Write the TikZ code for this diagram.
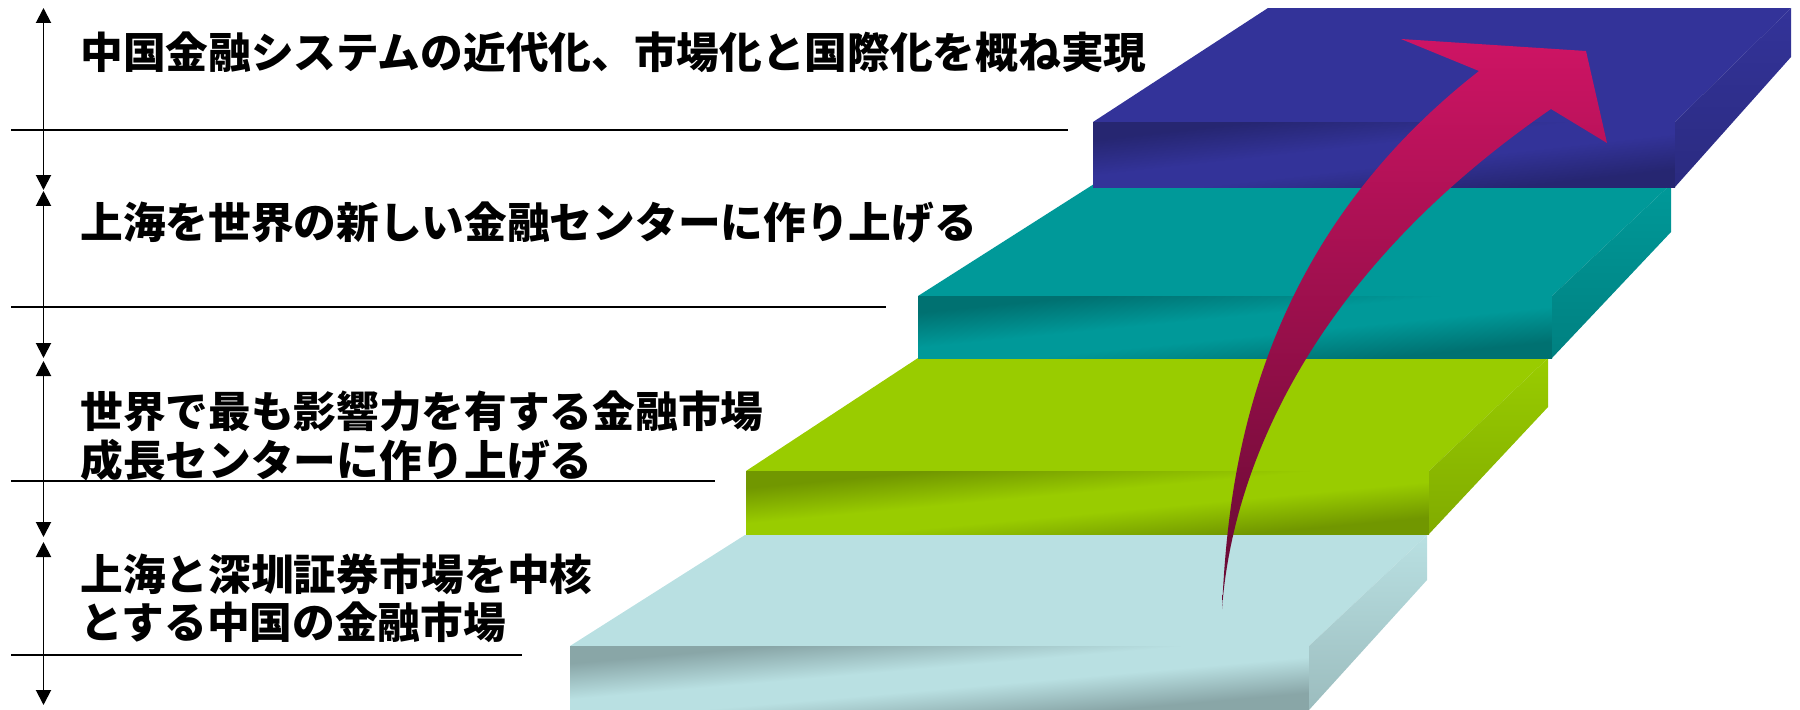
\documentclass[tikz,border=0pt]{standalone}
\usepackage{fontspec}
\usepackage{xcolor}
\usepackage{tikz}
\usetikzlibrary{arrows.meta}
\newfontfamily\jpfont{Noto Sans CJK JP}
\definecolor{paleblue}{RGB}{185,224,226}
\definecolor{lime}{RGB}{153,204,0}
\definecolor{seateal}{RGB}{0,153,153}
\definecolor{indigo}{RGB}{51,51,153}
\definecolor{rosetop}{RGB}{206,20,100}
\definecolor{rosetail}{RGB}{100,10,50}
\colorlet{facelt}{paleblue}
\colorlet{facedk}{paleblue!74!black}
\pgfdeclareverticalshading[facedk,facelt]{stepface}{100bp}{color(0bp)=(facedk);
  color(24bp)=(facedk); color(44bp)=(facelt); color(56bp)=(facelt);
  color(76bp)=(facedk); color(100bp)=(facedk)}

\begin{document}
\begin{tikzpicture}[x=0.02cm,y=-0.02cm,
    stage/.style={anchor=west,inner sep=0pt,align=left,
      font=\jpfont\bfseries\fontsize{24.3pt}{27.5pt}\selectfont},
    rule/.style={line width=1.1pt},
    span/.style={line width=1.1pt,{Triangle[width=3mm,length=3mm]}-{Triangle[width=3mm,length=3mm]}}]
  \useasboundingbox (0,0) rectangle (1800,710);
  % steps, bottom to top
  \foreach \xa/\xb/\ya/\yb/\xc/\yc/\xd/\ye/\col in
    {570/1309/646/710/745/535/1427/580/paleblue,
     746/1429/471/534/918/358/1548/407/lime,
     918/1552/296/358/1094/184/1671/232/seateal,
     1093/1675/122/187/1268/8/1791/57/indigo}
  {
    \colorlet{facelt}{\col}
    \colorlet{facedk}{\col!74!black}
    \fill[\col] (\xa,\ya) -- (\xc,\yc) -- (\xd,\yc) -- (\xb,\ya) -- cycle;
    \shade[shading=stepface,shading angle=45,
      transform canvas={shift={(\xa,\ya)},xscale={(\xb-\xa)/50},yscale={(\yb-\ya)/50}}]
      (0,0) rectangle (50,50);
    \shade[top color=\col,bottom color=\col!84!black]
      (\xb,\ya) -- (\xd,\yc) -- (\xd,\ye) -- (\xb,\yb) -- cycle;
  }
  % rising arrow
  \coordinate (tail) at (1222,609);
  \shade[top color=rosetop,bottom color=rosetail]
    (tail) .. controls (1228,480) and (1250,250) .. (1479,71)
    -- (1401,39) -- (1586,51) -- (1607,143) -- (1551,109)
    .. controls (1310,275) and (1232,470) .. (tail) -- cycle;
  % labels
  \node[stage] (goal) at (80,52) {中国金融システムの近代化、市場化と国際化を概ね実現};
  \node[stage] (hub) at (80,222) {上海を世界の新しい金融センターに作り上げる};
  \node[stage] (growth) at (80,436) {世界で最も影響力を有する金融市場\\成長センターに作り上げる};
  \node[stage] (base) at (80,598) {上海と深圳証券市場を中核\\とする中国の金融市場};
  % rules
  \coordinate (r1a) at (11,130);  \coordinate (r1b) at (1068,130);
  \coordinate (r2a) at (11,307);  \coordinate (r2b) at (886,307);
  \coordinate (r3a) at (11,481);  \coordinate (r3b) at (715,481);
  \coordinate (r4a) at (11,655);  \coordinate (r4b) at (522,655);
  \path[rule] (r1a) edge (r1b) (r2a) edge (r2b) (r3a) edge (r3b) (r4a) edge (r4b);
  % spans
  \coordinate (s1a) at (43.5,8);   \coordinate (s1b) at (43.5,190);
  \coordinate (s2a) at (43.5,191); \coordinate (s2b) at (43.5,358);
  \coordinate (s3a) at (43.5,361); \coordinate (s3b) at (43.5,537);
  \coordinate (s4a) at (43.5,542); \coordinate (s4b) at (43.5,705);
  \path[span] (s1a) edge (s1b) (s2a) edge (s2b) (s3a) edge (s3b) (s4a) edge (s4b);
\end{tikzpicture}
\end{document}
